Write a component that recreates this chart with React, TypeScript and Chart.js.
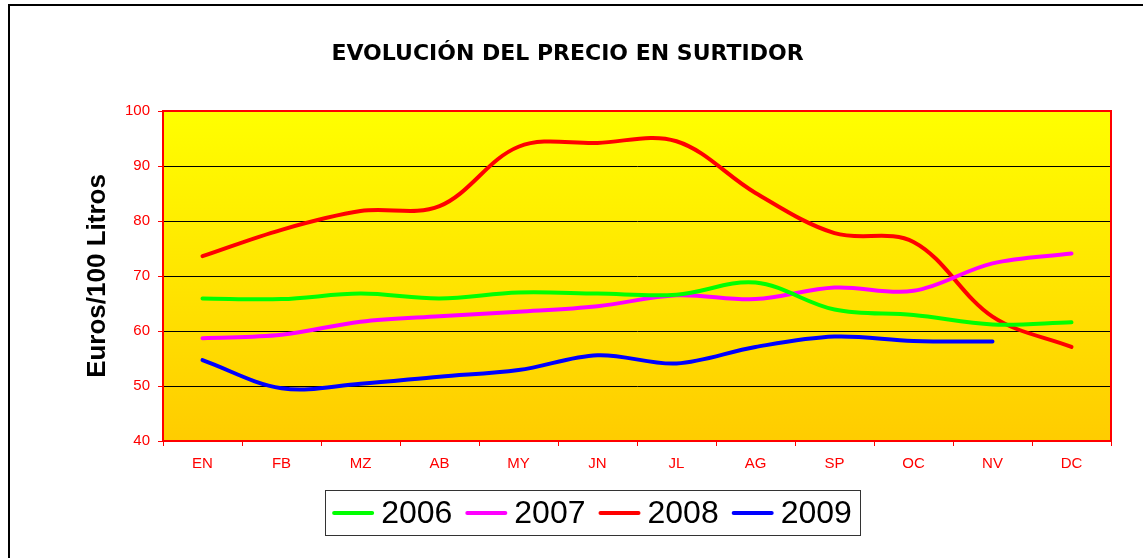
import React, { useEffect, useRef } from "react";
import { Chart, registerables } from "chart.js";

Chart.register(...registerables);

const months = ["EN", "FB", "MZ", "AB", "MY", "JN", "JL", "AG", "SP", "OC", "NV", "DC"];
const seriesNames = ["2006", "2007", "2008", "2009"];
const seriesColors = ["#00FF00", "#FF00FF", "#FF0000", "#0000FF"];
const values2006 = [65.9, 65.8, 66.8, 65.9, 67.0, 66.8, 66.6, 68.8, 63.9, 62.9, 61.2, 61.6];
const values2007 = [58.7, 59.3, 61.7, 62.7, 63.5, 64.5, 66.5, 65.8, 67.9, 67.3, 72.3, 74.1];
const values2008 = [73.6, 78.4, 81.8, 82.7, 93.5, 94.2, 94.5, 85.1, 77.8, 76.2, 62.6, 57.1];
const values2009 = [54.7, 49.6, 50.4, 51.7, 52.9, 55.6, 54.1, 57.1, 59.0, 58.2, 58.1, null];
const yMin = 40;
const yMax = 100;
const yStep = 10;
const titleText = "EVOLUCIÓN DEL PRECIO EN SURTIDOR";
const yTitleText = "Euros/100 Litros";

const allValues = [values2006, values2007, values2008, values2009];

const decorPlugin = {
  id: "decor",
  beforeDraw(chart: any) {
    const { ctx, chartArea } = chart;
    ctx.save();
    ctx.fillStyle = "#000";
    ctx.fillRect(8, 4, 2, chart.height);
    ctx.fillRect(8, 4, chart.width, 2);
    const g = ctx.createLinearGradient(0, chartArea.top, 0, chartArea.bottom);
    g.addColorStop(0, "#FFFF00");
    g.addColorStop(1, "#FFCC00");
    ctx.fillStyle = g;
    ctx.fillRect(chartArea.left, chartArea.top, chartArea.right - chartArea.left, chartArea.bottom - chartArea.top);
    ctx.restore();
  },
  beforeDatasetsDraw(chart: any) {
    const { ctx, chartArea } = chart;
    ctx.save();
    ctx.strokeStyle = "#FF0000";
    ctx.lineWidth = 2;
    ctx.strokeRect(chartArea.left, chartArea.top, chartArea.right - chartArea.left, chartArea.bottom - chartArea.top);
    ctx.restore();
  },
  afterDraw(chart: any) {
    const { ctx } = chart;
    const datasets = chart.data.datasets;
    ctx.save();
    ctx.font = "32px 'Liberation Sans', Arial, sans-serif";
    ctx.textBaseline = "middle";
    const lineLen = 42;
    const gapAfterLine = 7;
    const gapBetween = 13;
    const widths = datasets.map((d: any) => ctx.measureText(d.label).width);
    let total = 0;
    widths.forEach((w: number, i: number) => {
      total += lineLen + gapAfterLine + w + (i < widths.length - 1 ? gapBetween : 0);
    });
    const centerX = 592;
    const yMid = 513;
    let x = centerX - total / 2;
    const boxLeft = x - 7;
    const boxRight = x + total + 8;
    ctx.fillStyle = "#fff";
    ctx.fillRect(boxLeft, 490, boxRight - boxLeft, 45);
    ctx.strokeStyle = "#333";
    ctx.lineWidth = 1;
    ctx.strokeRect(Math.round(boxLeft) + 0.5, 490.5, Math.round(boxRight - boxLeft), 45);
    datasets.forEach((d: any, i: number) => {
      ctx.strokeStyle = d.borderColor;
      ctx.lineWidth = 4;
      ctx.lineCap = "round";
      ctx.beginPath();
      ctx.moveTo(x + 2, yMid);
      ctx.lineTo(x + lineLen - 2, yMid);
      ctx.stroke();
      x += lineLen + gapAfterLine;
      ctx.fillStyle = "#000";
      ctx.fillText(d.label, x, yMid + 1);
      x += widths[i] + gapBetween;
    });
    ctx.restore();
  },
};

export default function App() {
  const canvasRef = useRef<HTMLCanvasElement>(null);

  useEffect(() => {
    if (!canvasRef.current) return;
    const chart = new Chart(canvasRef.current, {
      type: "line",
      data: {
        labels: months,
        datasets: seriesNames.map((name, i) => ({
          label: name,
          data: allValues[i],
          borderColor: seriesColors[i],
          backgroundColor: seriesColors[i],
          borderWidth: 4,
          borderCapStyle: "round",
          borderJoinStyle: "round",
          pointRadius: 0,
          pointHoverRadius: 0,
          tension: 0.35,
          fill: false,
        })),
      },
      options: {
        animation: false,
        responsive: false,
        devicePixelRatio: 1,
        layout: { padding: { left: 24, right: 32, top: 0, bottom: 0 } },
        plugins: {
          legend: { display: false },
          tooltip: { enabled: false },
          title: {
            display: true,
            text: titleText,
            color: "#000",
            font: { family: "'DejaVu Sans', sans-serif", size: 22, weight: "bold" },
            padding: { top: 40.8, bottom: 43.8 },
          },
        },
        scales: {
          x: {
            offset: true,
            grid: {
              offset: true,
              drawOnChartArea: false,
              drawTicks: true,
              tickLength: 5,
              tickColor: "#FF0000",
              color: "#FF0000",
            },
            border: { color: "#FF0000", width: 2 },
            ticks: {
              color: "#FF0000",
              font: { family: "'Liberation Sans', Arial, sans-serif", size: 15 },
              padding: 9,
              maxRotation: 0,
              autoSkip: false,
            },
            afterFit(scale: any) {
              scale.height = 117;
            },
          },
          y: {
            min: yMin,
            max: yMax,
            ticks: {
              stepSize: yStep,
              color: "#FF0000",
              font: { family: "'Liberation Sans', Arial, sans-serif", size: 15 },
              padding: 8,
            },
            grid: {
              color: (c: any) => (c.tick && c.tick.value === yMax ? "#FF0000" : "#000"),
              tickColor: "#FF0000",
              tickLength: 5,
              lineWidth: 1,
            },
            border: { color: "#FF0000", width: 2 },
            title: {
              display: true,
              text: yTitleText,
              color: "#000",
              font: { family: "'Liberation Sans', Arial, sans-serif", size: 26, weight: "bold" },
              padding: { top: 58, bottom: 0 },
            },
            afterFit(scale: any) {
              scale.width = 139;
            },
          },
        },
      },
      plugins: [decorPlugin],
    } as any);
    return () => chart.destroy();
  }, []);

  return (
    <div style={{ position: "absolute", left: 0, top: 0, width: 1143, height: 558, background: "#fff" }}>
      <canvas ref={canvasRef} width={1143} height={558} style={{ display: "block" }} />
    </div>
  );
}
